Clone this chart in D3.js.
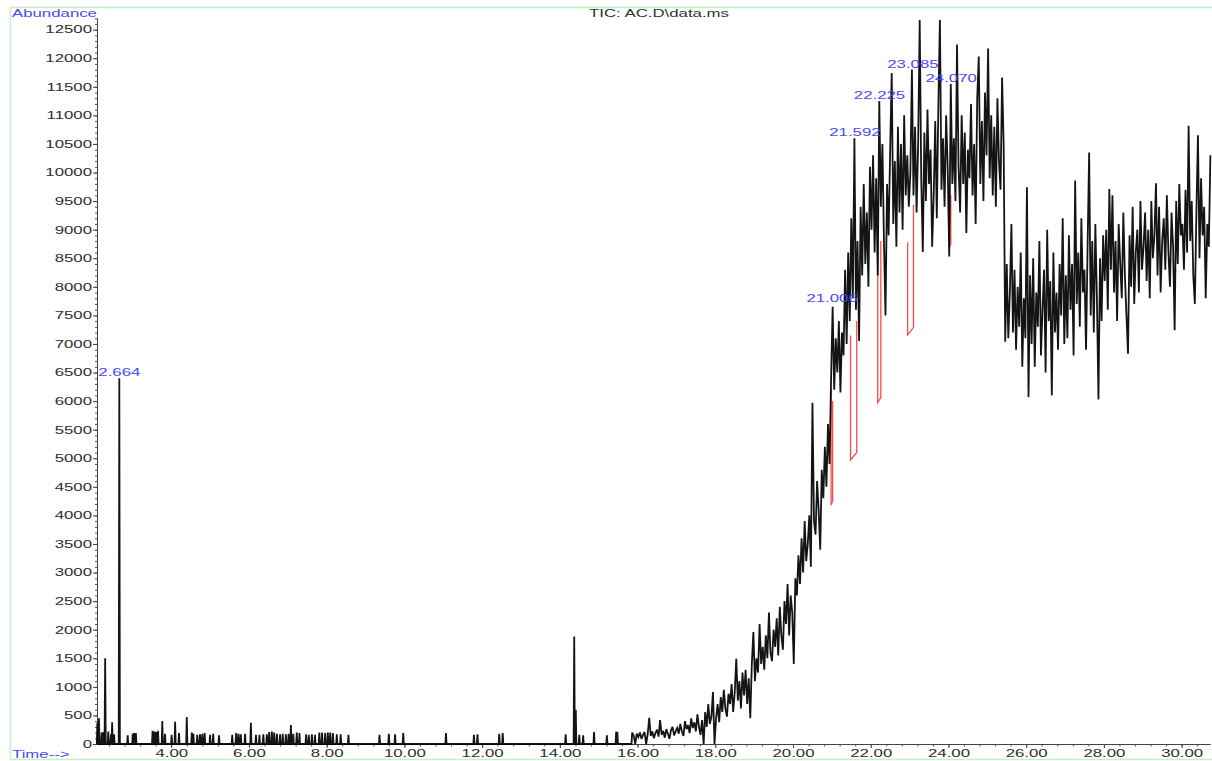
<!DOCTYPE html>
<html><head><meta charset="utf-8">
<script src="https://cdn.jsdelivr.net/npm/d3@7"></script>
<style>
html,body{margin:0;padding:0;background:#fff;}
svg{display:block;}
text{font-family:"Liberation Sans",Arial,sans-serif;}
</style>
</head><body>
<svg id="chart" width="1212" height="761"></svg>
<script>
// ---------------- DATA ----------------
const chartTitle = "TIC: AC.D\\data.ms";
const yAxisTitle = "Abundance";
const xAxisTitle = "Time-->";

const xTickValues = [4,6,8,10,12,14,16,18,20,22,24,26,28,30];
const xTickLabels = ["4.00","6.00","8.00","10.00","12.00","14.00","16.00","18.00","20.00","22.00","24.00","26.00","28.00","30.00"];
const yTickValues = [0,500,1000,1500,2000,2500,3000,3500,4000,4500,5000,5500,6000,6500,7000,7500,8000,8500,9000,9500,10000,10500,11000,11500,12000,12500];

// sparse early scans (minutes, abundance); baseline is 0 between them
const sparseTimes = [2.10,2.14,2.21,2.25,2.30,2.38,2.45,2.48,2.53,2.664,2.88,3.01,3.04,3.09,3.52,3.57,3.61,3.66,3.77,3.84,4.01,4.10,4.20,4.40,4.53,4.57,4.67,4.74,4.80,4.86,5.00,5.08,5.23,5.57,5.67,5.73,5.79,5.90,6.05,6.18,6.27,6.37,6.46,6.52,6.59,6.65,6.72,6.80,6.87,6.95,7.02,7.08,7.14,7.23,7.30,7.47,7.54,7.62,7.70,7.81,7.88,7.96,8.03,8.09,8.16,8.26,8.36,8.56,9.36,9.60,9.76,9.97,11.07,11.79,11.88,12.44,12.53,14.15,14.37,14.41,14.50,14.60,14.88,15.21,15.45,15.48];
const sparseValues = [370,450,200,210,1500,220,170,380,170,6400,150,180,190,190,230,220,210,230,400,180,160,390,190,470,200,180,160,170,180,190,160,180,150,160,190,180,170,180,370,160,160,170,170,210,220,200,180,170,180,170,180,330,180,200,190,170,160,170,160,200,200,190,200,200,190,170,170,160,160,180,170,190,190,160,170,180,190,170,1880,600,160,150,210,150,220,210];

// continuous scans from 15.86 min every 0.04 min
const denseStart = 15.86;
const denseStep = 0.04;
const denseValues = [
 200,150,0,180,120,200,90,160,210,0,170,460,140,220,100,190,250,130,420,160,230,110,260,180,90,240,300,150,220,
 280,180,350,220,140,400,260,330,190,450,280,380,220,520,300,160,420,0,560,300,700,350,480,910,0,
 450,700,380,820,560,950,620,480,880,700,1050,560,900,1490,760,1100,620,1250,850,1300,700,1150,450,1400,1960,
 1100,1500,1250,2100,1400,1700,1300,1900,1500,2300,1600,1450,2000,1700,2200,1550,2400,1900,1650,2500,2100,2800,1900,2600,2300,
 1400,2900,2600,3300,2800,3600,3000,3900,3200,3500,4000,3100,5970,3900,3665,4600,4100,3400,4800,4300,5200,4500,5600,4900,6400,
 7650,6200,7100,6500,7400,6150,7200,6800,8300,7000,8600,7400,9200,7800,10600,7600,8800,7050,9400,8200,9800,8400,9300,8000,10100,
 9000,10300,8600,9900,8200,11250,9400,10500,8800,7500,9800,8900,10400,11740,9100,10200,8700,10800,9300,10500,9000,11000,9600,10300,9400,
 10000,11800,9600,10800,9300,10500,12670,9900,8610,10700,9500,11100,9800,10400,8700,9600,10900,9200,11170,12670,9700,10600,9400,11000,10100,
 8530,11550,9800,10600,9500,12240,10100,9300,11000,9800,10700,8940,10400,9900,11200,9600,10500,9100,11300,12030,9800,10900,9500,11400,10300,
 12170,9900,11000,9600,10800,9400,11300,10200,9700,11660,10500,7040,8400,7100,7900,9100,7200,8300,6900,8000,7300,8600,6600,7800,7100,
 9740,6070,8200,7000,8500,6600,7900,7300,8800,6800,7600,8300,6500,9000,7400,8100,6100,8600,7200,7900,6900,8400,7500,9200,7000,
 8200,7100,8900,7600,8400,6800,9860,7700,8600,7300,9200,7900,8300,6900,8700,10350,7500,8800,7200,9100,7800,6030,8500,7400,8900,
 8100,9000,7600,9710,8300,9600,7900,8800,7400,9100,8400,7800,9300,8200,7500,6830,8900,8000,9400,7700,8600,9000,7900,9500,8300,
 8700,9300,8100,9000,7800,9500,8500,8900,9810,8200,9400,7900,8800,9200,8300,9600,8600,8000,9300,8700,7240,9500,8400,9800,8900,
 9100,8300,9700,8600,10820,8800,9500,8200,7700,9300,10650,8500,9900,8900,9400,7800,9100,8700,10300
];

// integrated peaks
const peakLabels = ["2.664","21.006","21.592","22.225","23.085","24.070"];
const peakTimes  = [2.664,21.006,21.592,22.225,23.085,24.070];
const peakApex   = [6400,7700,10600,11250,11800,11550];

// integration baselines (red)
const baseStartT   = [20.98,21.48,22.18,22.95,24.02];
const baseEndT     = [21.02,21.64,22.26,23.10,24.06];
const baseTopStart = [6200,7150,8800,8780,9680];
const baseLowStart = [4180,4970,5975,7160,8690];
const baseLowEnd   = [4250,5100,6060,7290,8750];
const baseTopEnd   = [6000,7400,8800,9435,9600];

// ---------------- DRAW ----------------
const SX = 1.6;       // horizontal text stretch of the original
const FS = 10.5;      // font size
const svg = d3.select("#chart");

const x = d3.scaleLinear().domain([2.09, 30.73]).range([97, 1210]);
const y = d3.scaleLinear().domain([0, 12700]).range([744, 18.2]);

// outer frame
svg.append("rect").attr("x", 10.5).attr("y", 7.5).attr("width", 1210).attr("height", 752)
  .attr("fill", "none").attr("stroke", "#c6f0c6").attr("stroke-width", 1.5);

function stretchText(sel){
  sel.each(function(){
    const t = d3.select(this);
    const tx = +(t.attr("x") || 0);
    t.attr("x", tx / SX).attr("transform", `scale(${SX},1)`);
  });
}

// y axis
const yMinor = d3.range(0, 12701, 100);
svg.append("g").attr("transform", "translate(97,0)")
  .call(d3.axisLeft(y).tickValues(yMinor).tickSize(2).tickSizeOuter(0).tickFormat(""))
  .call(g => g.select(".domain").attr("stroke", "#444"))
  .call(g => g.selectAll(".tick line").attr("stroke", "#555"));
const yAx = svg.append("g").attr("transform", "translate(97,0)")
  .call(d3.axisLeft(y).tickValues(yTickValues).tickSize(4).tickPadding(1).tickSizeOuter(0).tickFormat(d => String(d)));
yAx.select(".domain").attr("stroke", "#444");
yAx.selectAll(".tick line").attr("stroke", "#444");
yAx.selectAll(".tick text").attr("fill", "#2e2e2e").attr("font-size", FS).call(stretchText);

// x axis
const xMinor = d3.range(2.4, 30.73, 0.4);
svg.append("g").attr("transform", "translate(0,744)")
  .call(d3.axisBottom(x).tickValues(xMinor).tickSize(2.5).tickSizeOuter(0).tickFormat(""))
  .call(g => g.select(".domain").attr("stroke", "#444"))
  .call(g => g.selectAll(".tick line").attr("stroke", "#555"));
const xAx = svg.append("g").attr("transform", "translate(0,744)")
  .call(d3.axisBottom(x).tickValues(xTickValues).tickSize(4).tickPadding(1.5).tickSizeOuter(0)
    .tickFormat((d, i) => xTickLabels[i]));
xAx.select(".domain").attr("stroke", "#444");
xAx.selectAll(".tick line").attr("stroke", "#444");
xAx.selectAll(".tick text").attr("fill", "#2e2e2e").attr("font-size", FS).call(stretchText);

// stretched free text helper
function label(txt, px, py, anchor, color){
  svg.append("text").attr("transform", `translate(${px},${py}) scale(${SX},1)`)
    .attr("text-anchor", anchor).attr("font-size", FS).attr("fill", color).text(txt);
}
label(yAxisTitle, 12, 16.5, "start", "#4a4af2");
label(xAxisTitle, 12, 757.5, "start", "#4a4af2");
label(chartTitle, 659, 16.5, "middle", "#333");

// build trace
const half = 0.015;
const trace = [];
sparseTimes.forEach((t, i) => {
  trace.push([t - half, 0], [t, sparseValues[i]], [t + half, 0]);
});
trace.push([denseStart - half, 0]);
denseValues.forEach((v, i) => trace.push([denseStart + i * denseStep, v]));

const line = d3.line().x(d => x(d[0])).y(d => y(d[1]));

// red integration baselines (under trace)
const redG = svg.append("g");
baseStartT.forEach((t0, i) => {
  const pts = [[t0, baseTopStart[i]], [t0, baseLowStart[i]], [baseEndT[i], baseLowEnd[i]], [baseEndT[i], baseTopEnd[i]]];
  redG.append("path").attr("d", line(pts)).attr("fill", "none")
    .attr("stroke", "#ff4a4a").attr("stroke-width", 1.3);
});

svg.append("path").datum(trace).attr("d", line).attr("fill", "none")
  .attr("stroke", "#000").attr("stroke-opacity", 0.92).attr("stroke-width", 1.8).attr("stroke-linejoin", "miter")
  .attr("stroke-miterlimit", 3);

// peak labels
peakLabels.forEach((lb, i) => {
  label(lb, x(peakTimes[i]), y(peakApex[i]) - 2, "middle", "#4a4af2");
});
</script>
</body></html>
